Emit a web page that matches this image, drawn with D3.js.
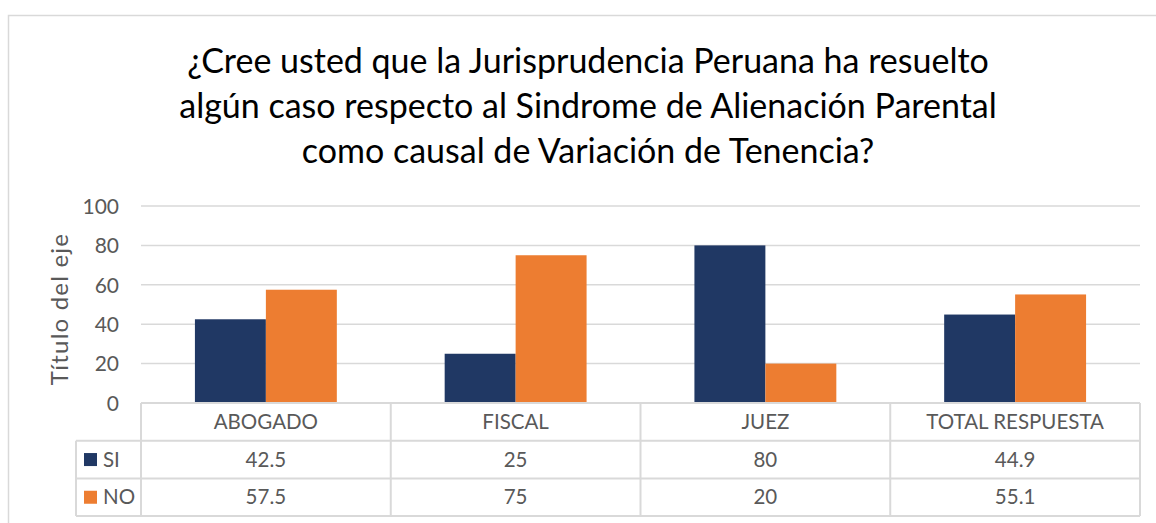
<!DOCTYPE html>
<html>
<head>
<meta charset="utf-8">
<script src="https://cdn.jsdelivr.net/npm/d3@7"></script>
<style>
  body { margin: 0; background: #fff; }
  text { font-family: Lato, "Open Sans", sans-serif; }
</style>
</head>
<body>
<div id="chart"></div>
<script>
// categories and series
var categories = ["ABOGADO", "FISCAL", "JUEZ", "TOTAL RESPUESTA"];
var seriesNames = ["SI", "NO"];
var siValues = [42.5, 25, 80, 44.9];
var noValues = [57.5, 75, 20, 55.1];
var yTicks = [0, 20, 40, 60, 80, 100];
var titleLines = [
    "¿Cree usted que la Jurisprudencia Peruana ha resuelto",
    "algún caso respecto al Sindrome de Alienación Parental",
    "como causal de Variación de Tenencia?"
];

function init() {
    var w = 1156, h = 523;
    var colors = { SI: "#203864", NO: "#ED7D31" };
    var gridColor = "#D9D9D9";
    var textColor = "#595959";

    // plot area
    var left = 141, right = 1140, top = 206, bottom = 403;
    var rowH = 37.7;

    var svg = d3.select("#chart").append("svg")
        .attr("width", w)
        .attr("height", h);

    // outer chart border
    svg.append("rect")
        .attr("x", 8.5).attr("y", 15.5)
        .attr("width", w + 10).attr("height", h + 10)
        .attr("fill", "none")
        .attr("stroke", gridColor)
        .attr("stroke-width", 1.5);

    // title
    svg.append("g").selectAll("text")
        .data(titleLines)
        .enter().append("text")
        .attr("x", 588)
        .attr("y", function (d, i) { return 73 + i * 45; })
        .attr("text-anchor", "middle")
        .attr("font-size", 34)
        .attr("fill", "#000")
        .text(function (d) { return d; });

    var x0 = d3.scaleBand().domain(categories).range([left, right]).padding(0);
    var x1 = d3.scaleBand().domain(seriesNames).range([0, x0.bandwidth()])
        .paddingInner(0).paddingOuter(0.76);
    var y = d3.scaleLinear().domain([0, 100]).range([bottom, top]);

    // gridlines
    svg.append("g").selectAll("line")
        .data(yTicks)
        .enter().append("line")
        .attr("x1", left).attr("x2", right)
        .attr("y1", function (d) { return y(d); })
        .attr("y2", function (d) { return y(d); })
        .attr("stroke", gridColor)
        .attr("stroke-width", 1.5);

    // y axis labels
    var yAxis = svg.append("g")
        .attr("transform", "translate(" + (left - 22) + ",0)")
        .call(d3.axisLeft(y).tickValues(yTicks).tickSize(0).tickPadding(0));
    yAxis.select(".domain").remove();
    yAxis.selectAll("text")
        .attr("font-family", "Lato, sans-serif")
        .attr("font-size", 21)
        .attr("fill", textColor)
        .attr("dy", "0.35em");

    // axis title
    svg.append("text")
        .attr("transform", "translate(68,309) rotate(-90)")
        .attr("text-anchor", "middle")
        .attr("font-size", 24)
        .attr("letter-spacing", 1.2)
        .attr("fill", textColor)
        .text("Título del eje");

    // bars
    var rows = categories.map(function (c, i) {
        return { cat: c, SI: siValues[i], NO: noValues[i] };
    });
    var groups = svg.append("g").selectAll("g")
        .data(rows)
        .enter().append("g")
        .attr("transform", function (d) { return "translate(" + x0(d.cat) + ",0)"; });
    groups.selectAll("rect")
        .data(function (d) { return seriesNames.map(function (s) { return { key: s, value: d[s] }; }); })
        .enter().append("rect")
        .attr("x", function (d) { return x1(d.key); })
        .attr("width", x1.bandwidth())
        .attr("y", function (d) { return y(d.value); })
        .attr("height", function (d) { return y(0) - y(d.value); })
        .attr("fill", function (d) { return colors[d.key]; });

    // data table
    var table = svg.append("g");
    var tBottom = bottom + rowH * 3;
    var legendLeft = 76;
    // horizontal lines
    table.append("line").attr("x1", left).attr("x2", right)
        .attr("y1", bottom).attr("y2", bottom);
    [1, 2, 3].forEach(function (r) {
        table.append("line").attr("x1", legendLeft).attr("x2", right)
            .attr("y1", bottom + rowH * r).attr("y2", bottom + rowH * r);
    });
    // vertical lines
    table.append("line").attr("x1", legendLeft).attr("x2", legendLeft)
        .attr("y1", bottom + rowH).attr("y2", tBottom);
    categories.forEach(function (c) {
        table.append("line").attr("x1", x0(c)).attr("x2", x0(c))
            .attr("y1", bottom).attr("y2", tBottom);
    });
    table.append("line").attr("x1", right).attr("x2", right)
        .attr("y1", bottom).attr("y2", tBottom);
    table.selectAll("line")
        .attr("stroke", gridColor)
        .attr("stroke-width", 2);

    // category header
    table.selectAll(".cat")
        .data(categories)
        .enter().append("text")
        .attr("class", "cat")
        .attr("x", function (d) { return x0(d) + x0.bandwidth() / 2; })
        .attr("y", bottom + rowH / 2)
        .attr("dy", "0.35em")
        .attr("text-anchor", "middle")
        .attr("font-size", 20.5)
        .attr("fill", textColor)
        .text(function (d) { return d; });

    // value rows
    var seriesValues = [siValues, noValues];
    seriesNames.forEach(function (s, r) {
        var cy = bottom + rowH * (r + 1) + rowH / 2;
        table.append("rect")
            .attr("x", 84).attr("y", cy - 6.5)
            .attr("width", 13).attr("height", 13)
            .attr("fill", colors[s]);
        table.append("text")
            .attr("x", 103).attr("y", cy)
            .attr("dy", "0.35em")
            .attr("font-size", 20.5)
            .attr("fill", textColor)
            .text(s);
        table.selectAll(".val" + s)
            .data(seriesValues[r])
            .enter().append("text")
            .attr("class", "val" + s)
            .attr("x", function (d, i) { return x0(categories[i]) + x0.bandwidth() / 2; })
            .attr("y", cy)
            .attr("dy", "0.35em")
            .attr("text-anchor", "middle")
            .attr("font-size", 20.5)
            .attr("fill", textColor)
            .text(function (d) { return d; });
    });
}

window.onload = init;
</script>
</body>
</html>
